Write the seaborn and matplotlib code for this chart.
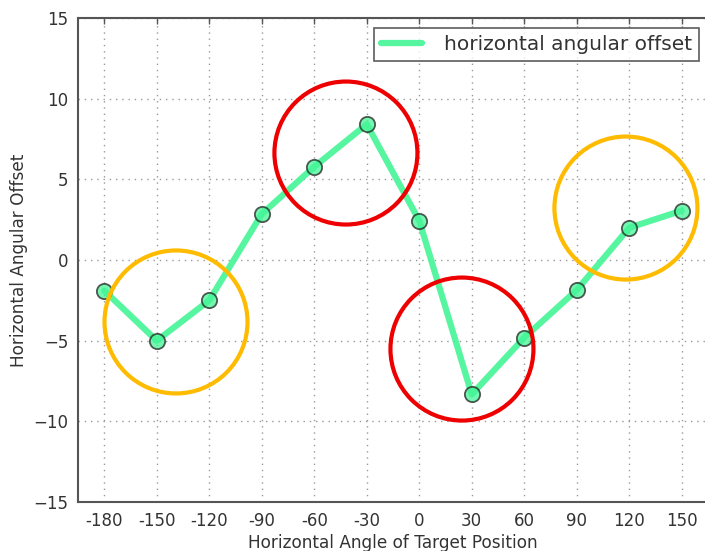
import matplotlib
matplotlib.use("Agg")
import matplotlib.pyplot as plt
import seaborn as sns
import pandas as pd
from matplotlib.patches import Ellipse

angles = [-180, -150, -120, -90, -60, -30, 0, 30, 60, 90, 120, 150]
offsets = [-1.9, -5.0, -2.5, 2.85, 5.78, 8.41, 2.44, -8.33, -4.81, -1.86, 2.0, 3.06]
tick_labels = ["-180", "-150", "-120", "-90", "-60", "-30", "0", "30", "60", "90", "120", "150"]
y_ticks = [-15, -10, -5, 0, 5, 10, 15]
series_name = "horizontal angular offset"
# highlight circles: (x center, y center, color)
highlights = [(-41.9, 6.63, "#ee0000"), (24.4, -5.52, "#ee0000"),
              (-139.0, -3.84, "#ffbb00"), (118.1, 3.22, "#ffbb00")]

sns.set_style("white")
plt.rcParams["font.family"] = ["DejaVu Sans"]
text_color = "#333333"

df = pd.DataFrame({"angle": angles, "offset": offsets})

W, H = 7.05, 5.51
fig = plt.figure(figsize=(W, H), dpi=100)
left, right, bottom, top = 78 / 705, 708 / 705, 1 - 502 / 551, 1 - 18 / 551
ax = fig.add_axes([left, bottom, right - left, top - bottom])

green = "#44f597"
sns.lineplot(data=df, x="angle", y="offset", ax=ax, color=green, lw=4.5,
             alpha=0.9, label=series_name, zorder=3)
ax.plot(df["angle"], df["offset"], ls="none", marker="o", ms=11,
        mfc=green, mec="#222222", mew=1.3, alpha=0.75, zorder=4)

xmin, xmax = -195, 165
ymin, ymax = -15, 15
ax.set_xlim(xmin, xmax)
ax.set_ylim(ymin, ymax)

# circles radius ~71 px converted to data units
ax_w_px = (right - left) * W * 100
ax_h_px = (top - bottom) * H * 100
r = 71.5
for cx, cy, c in highlights:
    e = Ellipse((cx, cy), width=2 * r * (xmax - xmin) / ax_w_px,
                height=2 * r * (ymax - ymin) / ax_h_px,
                fill=False, ec=c, lw=3, zorder=5)
    ax.add_patch(e)

ax.set_xticks(angles)
ax.set_xticklabels(tick_labels)
ax.set_yticks(y_ticks)
ax.set_yticklabels([str(v).replace("-", "\u2212") for v in y_ticks])
ax.tick_params(direction="in", length=4, width=1, colors="#555555",
               labelcolor=text_color, labelsize=12, top=True, right=False, pad=7)
ax.grid(True, ls=(0, (1, 3.5)), color="#999999", lw=1)
for s in ax.spines.values():
    s.set_color("#555555")
    s.set_linewidth(1.5)
ax.spines["right"].set_visible(False)
ax.set_xlabel("Horizontal Angle of Target Position", color=text_color, fontsize=12.2, labelpad=3)
ax.set_ylabel("Horizontal Angular Offset", color=text_color, fontsize=12.2, labelpad=4)

leg = ax.legend(loc="upper right", fontsize=14.5, frameon=True, fancybox=False,
                handlelength=2.0, handletextpad=1.1, borderpad=0.35,
                borderaxespad=0, bbox_to_anchor=(621 / 630, 474 / 484))
leg.get_frame().set_edgecolor("#333333")
leg.get_frame().set_linewidth(1.2)
for t in leg.get_texts():
    t.set_color(text_color)

fig.savefig("out.png", dpi=100)
